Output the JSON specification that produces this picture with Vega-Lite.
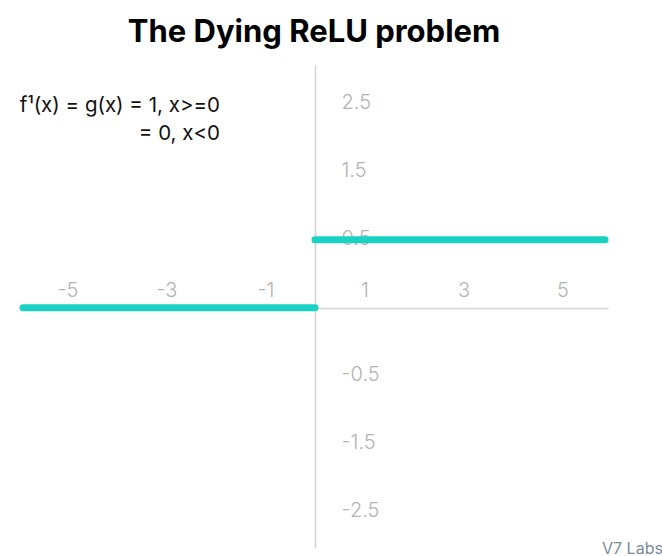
{
  "$schema": "https://vega.github.io/schema/vega-lite/v6.json",
  "width": 588,
  "height": 483,
  "autosize": {"type": "none"},
  "padding": {"left": 20, "top": 65, "right": 54, "bottom": 8},
  "background": "white",
  "title": {
    "text": "The Dying ReLU problem",
    "font": "Inter",
    "fontSize": 31,
    "fontWeight": "bold",
    "color": "#000000",
    "anchor": "middle",
    "offset": 16
  },
  "config": {"view": {"stroke": null}},
  "datasets": {
    "relu": [
      {"segment": "x<0", "x": -5.9, "g": 0},
      {"segment": "x<0", "x": 0, "g": 0},
      {"segment": "x>=0", "x": 0, "g": 1},
      {"segment": "x>=0", "x": 5.86, "g": 1}
    ],
    "note": [{"text": "f¹(x) = g(x) = 1, x>=0\n= 0, x<0"}],
    "credit": [{"text": "V7 Labs"}]
  },
  "layer": [
    {
      "data": {"name": "relu"},
      "mark": {"type": "line", "color": "#19d2c4", "strokeWidth": 7, "strokeCap": "round"},
      "encoding": {
        "x": {
          "field": "x",
          "type": "quantitative",
          "scale": {"domain": [-5.96, 5.92], "nice": false, "zero": false},
          "axis": {
            "orient": "top",
            "offset": -243,
            "values": [-5, -3, -1, 1, 3, 5],
            "labelExpr": "replace(datum.label, '−', '-')",
            "ticks": false,
            "tickSize": 0,
            "grid": false,
            "domainColor": "#d3d3d3",
            "domainWidth": 1.5,
            "labelColor": "#b3b3b3",
            "labelFont": "Inter",
            "labelFontSize": 20,
            "labelFontWeight": 300,
            "labelPadding": 8,
            "title": null
          }
        },
        "y": {
          "field": "g",
          "type": "quantitative",
          "scale": {"domain": [-3.53, 3.57], "nice": false, "zero": false},
          "axis": {
            "orient": "right",
            "offset": -293,
            "values": [3, 2, 1, -1, -2, -3],
            "labelExpr": "replace(datum.value > 0 ? format(datum.value - 0.5, '.1f') : format(datum.value + 0.5, '.1f'), '−', '-')",
            "ticks": false,
            "tickSize": 0,
            "grid": false,
            "domainColor": "#d3d3d3",
            "domainWidth": 1.5,
            "labelColor": "#b3b3b3",
            "labelFont": "Inter",
            "labelFontSize": 20,
            "labelFontWeight": 300,
            "labelAlign": "left",
            "labelPadding": 26,
            "labelOffset": -1,
            "title": null
          }
        },
        "detail": {"field": "segment"}
      }
    },
    {
      "data": {"name": "note"},
      "mark": {
        "type": "text",
        "align": "right",
        "baseline": "alphabetic",
        "font": "Inter",
        "fontSize": 20.5,
        "lineHeight": 28,
        "lineBreak": "\n",
        "color": "#111111"
      },
      "encoding": {
        "x": {"datum": -1.92},
        "y": {"datum": 2.88},
        "text": {"field": "text"}
      }
    },
    {
      "data": {"name": "credit"},
      "mark": {
        "type": "text",
        "align": "left",
        "baseline": "alphabetic",
        "font": "Inter",
        "fontSize": 16,
        "dx": -6,
        "dy": 6,
        "color": "#7d8b99"
      },
      "encoding": {
        "x": {"datum": 5.92},
        "y": {"datum": -3.53},
        "text": {"field": "text"}
      }
    }
  ]
}
